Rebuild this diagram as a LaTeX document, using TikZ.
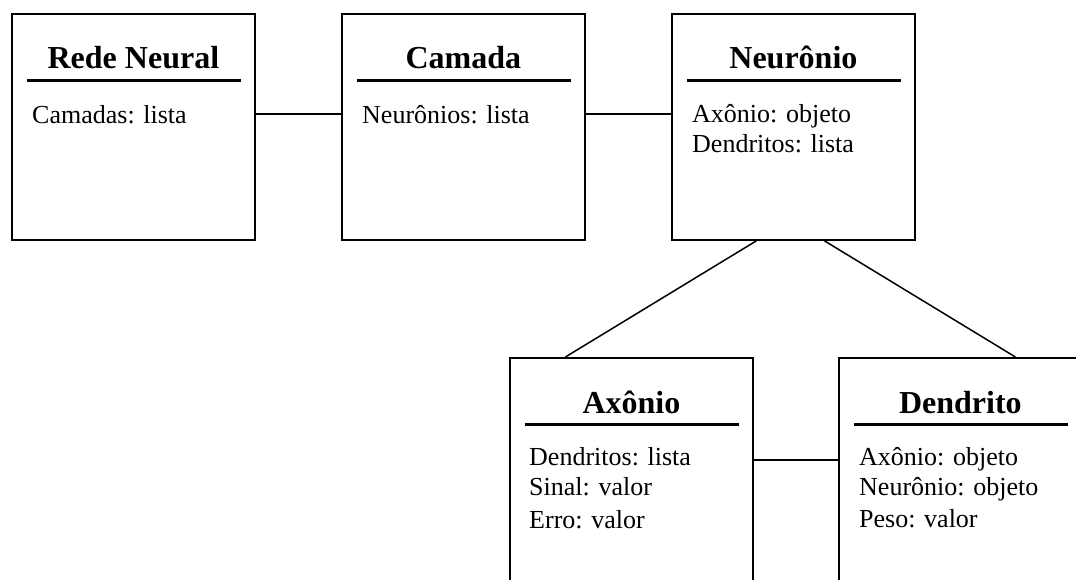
\documentclass[tikz,border=0pt]{standalone}
\usepackage{fontspec}
\setmainfont{Liberation Serif}
\usetikzlibrary{positioning,calc}
\tikzset{
  classbox/.style={draw=black,line width=1.8pt,anchor=north west,inner sep=0pt,
    minimum width=243pt,minimum height=226pt},
  classtitle/.style={anchor=base,inner sep=0pt,font=\fontsize{32}{36}\selectfont\bfseries},
  attrtext/.style={anchor=base west,inner sep=0pt,align=left,
    font=\fontsize{26}{30}\selectfont},
  titlerule/.style={line width=3pt},
  assoc/.style={line width=1.5pt}
}

\begin{document}
\begin{tikzpicture}[x=1pt,y=-1pt]
\useasboundingbox (0,0) rectangle (1076,579);
\clip (0,0) rectangle (1076,579);

% classes
\node[classbox] (rede) at (11,13) {};
\node[classbox] (camada) at (341,13) {};
\node[classbox] (neur) at (671,13) {};
\node[classbox] (axon) at (509,357) {};
\node[classbox] (dend) at (838,357) {};

% titles and attributes
\node[classtitle] (redeT) at ($(rede.north)+(0,55)$) {Rede Neural};
\node[classtitle] (camadaT) at ($(camada.north)+(0,55)$) {Camada};
\node[classtitle] (neurT) at ($(neur.north)+(0,55)$) {Neurônio};
\node[classtitle] (axonT) at ($(axon.north)+(0,56)$) {Axônio};
\node[classtitle] (dendT) at ($(dend.north)+(0,56)$) {Dendrito};

\foreach \c in {rede,camada,neur,axon,dend}
  \draw[titlerule] ($(\c.north west)+(16,67)$) -- ($(\c.north east)+(-15,67)$);

% base of a multi-line node is its last line
\node[attrtext] (redeA) at ($(rede.north west)+(21,110)$) {Camadas: lista};
\node[attrtext] (camadaA) at ($(camada.north west)+(21,110)$) {Neurônios: lista};
\node[attrtext] (neurA) at ($(neur.north west)+(21,139)$)
  {Axônio: objeto\\Dendritos: lista};
\node[attrtext] (axonA) at ($(axon.north west)+(20,171)$)
  {Dendritos: lista\\Sinal: valor\\[3pt]Erro: valor};
\node[attrtext] (dendA) at ($(dend.north west)+(21,170)$)
  {Axônio: objeto\\Neurônio: objeto\\[2pt]Peso: valor};

% associations
\draw[assoc] ($(rede.east)+(0,-13)$) -- ($(camada.west)+(0,-13)$);
\draw[assoc] ($(camada.east)+(0,-13)$) -- ($(neur.west)+(0,-13)$);
\draw[assoc] ($(neur.south)+(-37,0)$) -- ($(axon.north)+(-66,0)$);
\draw[assoc] ($(neur.south)+(31,0)$) -- ($(dend.north)+(55,0)$);
\draw[assoc] ($(axon.east)+(0,-11)$) -- ($(dend.west)+(0,-11)$);
\end{tikzpicture}
\end{document}
